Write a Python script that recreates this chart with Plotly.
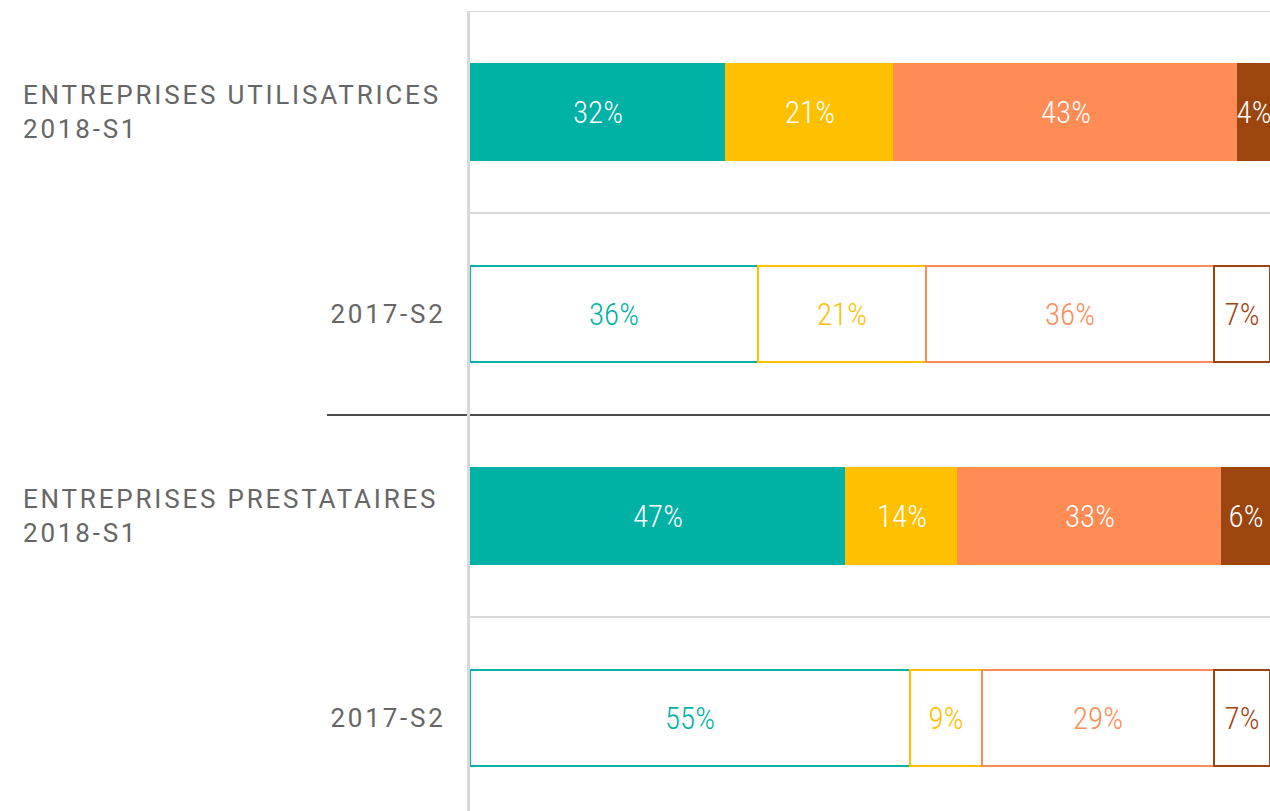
import plotly.graph_objects as go

# rows, top to bottom
row_labels = ["ENTREPRISES UTILISATRICES<br>2018-S1", "2017-S2",
              "ENTREPRISES PRESTATAIRES<br>2018-S1", "2017-S2"]
row_pos = [0, 1, 2, 3]
current = [True, False, True, False]   # 2018-S1 filled, 2017-S2 outlined

segment_names = ["Segment 1", "Segment 2", "Segment 3", "Segment 4"]
seg_1 = [32, 36, 47, 55]
seg_2 = [21, 21, 14, 9]
seg_3 = [43, 36, 33, 29]
seg_4 = [4, 7, 6, 7]
segment_colors = ["#00B2A5", "#FFC000", "#FF8B55", "#9C450F"]

PLOT_W = 800  # px width of plot area, used to place labels left of it

fig = go.Figure()

for name, vals, col in zip(segment_names, [seg_1, seg_2, seg_3, seg_4], segment_colors):
    fill = [col if c else "white" for c in current]
    txt_col = ["white" if c else col for c in current]
    fig.add_trace(go.Bar(
        name=name, y=row_pos, x=vals, orientation="h", width=0.475,
        marker=dict(color=fill, line=dict(color=col, width=2)),
        text=[f"{v}%" for v in vals], textposition="inside",
        insidetextanchor="middle", textangle=0, constraintext="none",
        textfont=dict(family="Liberation Sans Narrow, Roboto Condensed, Roboto",
                      size=31, color=txt_col, weight=300),
        hoverinfo="skip", showlegend=False,
    ))

# separators between rows
for y, c, w, x0 in [(-0.5, "#D9D9D9", 2, 0), (0.5, "#D9D9D9", 2, 0),
                    (1.5, "#4D4D4D", 2, -143 / PLOT_W), (2.5, "#D9D9D9", 2, 0)]:
    fig.add_shape(type="line", xref="paper", yref="y", x0=x0, x1=1, y0=y, y1=y,
                  line=dict(color=c, width=w), layer="below")

# row labels
for lab, y, c in zip(row_labels, row_pos, current):
    if c:
        fig.add_annotation(text=lab, xref="paper", yref="y", x=(21 - 470) / PLOT_W, y=y,
                           xanchor="left", align="left", showarrow=False)
    else:
        fig.add_annotation(text=lab, xref="paper", yref="y", x=(448 - 470) / PLOT_W, y=y,
                           xanchor="right", align="right", showarrow=False)

fig.update_annotations(font=dict(family="Roboto", size=26, color="#666666"))

fig.update_layout(
    barmode="stack", width=1270, height=811,
    margin=dict(l=470, r=0, t=11, b=0),
    plot_bgcolor="white", paper_bgcolor="white",
    xaxis=dict(range=[0, 100], visible=False, fixedrange=True),
    yaxis=dict(range=[3.46, -0.5], showticklabels=False, showgrid=False, zeroline=False,
               showline=True, linecolor="#D9D9D9", linewidth=3, ticks="", fixedrange=True),
)

# no page margin, and widen the tracking of the row labels
spacing_js = """
document.body.style.margin = '0';
var gd = document.getElementById('{plot_id}');
function track() {
  document.querySelectorAll('.annotation-text').forEach(function (t) {
    t.style.letterSpacing = '2.8px';
  });
}
track();
gd.on('plotly_afterplot', track);
"""

fig.write_html("out.html", post_script=spacing_js, config={"displayModeBar": False})
